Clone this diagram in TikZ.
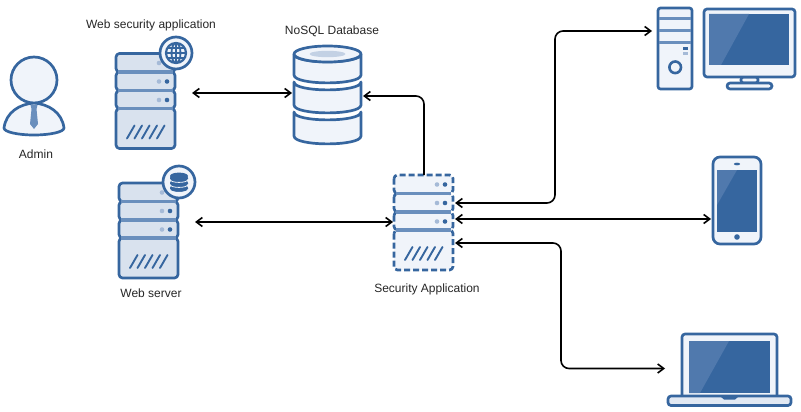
\documentclass[tikz,border=0pt]{standalone}
\usepackage{fontspec}
\setmainfont{Liberation Sans}
\usetikzlibrary{arrows.meta}

\definecolor{iconblue}{HTML}{36669F}
\definecolor{iconmid}{HTML}{6A8FBD}
\definecolor{iconpale}{HTML}{A5BAD7}
\definecolor{iconfill}{HTML}{D9E2EE}
\definecolor{iconlight}{HTML}{F0F4FA}
\definecolor{iconshine}{HTML}{5079AD}

\tikzset{
    iconbox/.style={inner sep=0pt, outer sep=0pt},
    line/.style={draw=iconblue, line width=2.7pt, line join=round},
    link/.style={draw=black, line width=1.6pt, rounded corners=8pt},
    label/.style={font=\fontsize{12}{14}\selectfont, text=black!85},
    pics/rack/.style n args={2}{code={
        \foreach \top/\bot in {0/18.5, 18.5/37, 37/55, 55/95}
            \draw[#1, fill=#2, rounded corners=3.5pt] (0,\top) rectangle (59,\bot);
        \foreach \div in {18.5, 37, 55}
            \draw[iconmid, line width=3.3pt] (2,\div) -- (57,\div);
        \foreach \ypos in {9.5, 28, 46.5} {
            \fill[iconpale] (43,\ypos) circle (2.3);
            \fill[iconblue] (51,\ypos) circle (2.3);
        }
        \foreach \xpos in {11, 18.5, 26, 33.5, 41}
            \draw[iconblue, line width=1.9pt, line cap=round] (\xpos,85) -- ++(7.5,-13);
    }},
    pics/globebadge/.style={code={
        \draw[line, fill=iconlight] (0,0) circle (16);
        \draw[iconblue, line width=2.2pt] (0,0) circle (10);
        \draw[iconblue, line width=1.8pt] (0,0) ellipse [x radius=4.5pt, y radius=10pt];
        \draw[iconblue, line width=1.8pt] (0,-10) -- (0,10) (-10,0) -- (10,0) (-9,-5) -- (9,-5) (-9,5) -- (9,5);
    }},
    pics/diskbadge/.style={code={
        \draw[line, fill=iconlight] (0,0) circle (16);
        \foreach \ypos in {6, 1, -4} {
            \fill[iconblue] (-9,\ypos) -- (-9,\ypos+1) .. controls (-9,\ypos+5) and (9,\ypos+5) .. (9,\ypos+1)
                -- (9,\ypos) .. controls (9,\ypos-5) and (-9,\ypos-5) .. cycle;
            \draw[iconlight, line width=.8pt] (-9,\ypos+1.4) .. controls (-9,\ypos+5.4) and (9,\ypos+5.4) .. (9,\ypos+1.4);
        }
        \fill[iconblue] (0,-6) ellipse [x radius=9pt, y radius=3.4pt];
    }},
}

\begin{document}
\begin{tikzpicture}[x=1pt, y=-1pt, >={Straight Barb[length=6pt, width=9pt]}]
    \useasboundingbox (0,0) rectangle (801,412);

    \node[iconbox, minimum width=62pt, minimum height=79pt] (Admin) at (34,96) {};
    \node[iconbox, minimum width=59pt, minimum height=95pt] (WebSec) at (145.5,101) {};
    \node[iconbox, minimum width=59pt, minimum height=94pt] (WebSrv) at (148.5,230) {};
    \node[iconbox, minimum width=69pt, minimum height=98pt] (NoSql) at (327.5,95) {};
    \node[iconbox, minimum width=60pt, minimum height=96pt] (SecApp) at (424,223) {};
    \node[iconbox, minimum width=139pt, minimum height=82pt] (Desktop) at (726.5,48) {};
    \node[iconbox, minimum width=50pt, minimum height=89pt] (Phone) at (737,200.5) {};
    \node[iconbox, minimum width=125pt, minimum height=73pt] (Laptop) at (729.5,369.5) {};

    \node[label] (AdminText) at (36,154) {Admin};
    \node[label] (WebSecText) at (151,25) {Web security application};
    \node[label] (WebSrvText) at (151,293) {Web server};
    \node[label] (NoSqlText) at (332,31) {NoSQL Database};
    \node[label] (SecAppText) at (427,289) {Security Application};

    \draw[line, fill=iconlight] (4,128) .. controls (6,112) and (20,104) .. (34,103) .. controls (48,104) and (62,112) .. (64,128)
        .. controls (64,132) and (50,135) .. (34,135) .. controls (18,135) and (4,132) .. (4,128) -- cycle;
    \fill[iconmid] (30.5,105) -- (37.5,105) -- (36.5,109) -- (38,124) -- (34,129) -- (30,124) -- (31.5,109) -- cycle;
    \draw[line, fill=iconlight] (34,80) circle (23);

    \pic at (WebSec.north west) {rack={line}{iconfill}};
    \pic at (176,53) {globebadge};
    \pic at (WebSrv.north west) {rack={line}{iconfill}};
    \pic at (179,182) {diskbadge};
    \pic at (SecApp.north west) {rack={line, dash pattern=on 6pt off 3pt}{iconlight}};

    \foreach \ytop/\ybot in {112/136, 82/105, 54/75}
        \draw[line, fill=iconlight] (294,\ytop) -- (294,\ybot) .. controls (294,\ybot+10.5) and (361,\ybot+10.5) .. (361,\ybot)
            -- (361,\ytop) .. controls (361,\ytop+10.5) and (294,\ytop+10.5) .. cycle;
    \draw[line, fill=iconlight] (327.5,54) ellipse [x radius=33.5pt, y radius=8pt];
    \fill[iconfill!80!iconmid] (327.5,54) ellipse [x radius=18pt, y radius=3.2pt];

    \draw[line, fill=iconlight, rounded corners=2.5pt] (658,8) rectangle (692,89);
    \foreach \ypos in {19, 31, 43}
        \draw[iconmid, line width=3pt] (659,\ypos) -- (691,\ypos);
    \fill[iconblue] (683,47) rectangle (688,50);
    \fill[iconpale] (683,52) rectangle (688,55);
    \draw[iconblue, line width=2.6pt, fill=iconlight] (675.2,67.3) circle (5.8);
    \draw[line, fill=iconlight, rounded corners=2.5pt] (741,77) rectangle (758,83);
    \draw[line, fill=iconlight, rounded corners=3pt] (727,83) rectangle (772,89);
    \draw[line, fill=iconlight, rounded corners=3pt] (704,9) rectangle (795,77);
    \fill[iconblue] (709,14) rectangle (789,65);
    \fill[iconshine] (709,14) -- (749,14) -- (721,65) -- (709,65) -- cycle;

    \draw[line, fill=iconlight, rounded corners=7pt] (713,157) rectangle (761,244);
    \fill[iconblue] (717,170) rectangle (757,232);
    \fill[iconshine] (717,170) -- (737,170) -- (717,205) -- cycle;
    \fill[iconblue] (737,164) ellipse [x radius=3.2pt, y radius=1.3pt];
    \fill[iconblue] (737,237) circle (2.8);

    \draw[line, fill=iconlight, rounded corners=3pt] (682,334) rectangle (777,400);
    \fill[iconblue] (689,341) rectangle (770,393);
    \fill[iconshine] (689,341) -- (729,341) -- (700,393) -- (689,393) -- cycle;
    \draw[line, fill=iconfill!60!iconlight, rounded corners=3pt] (668,396) rectangle (791,405.5);
    \fill[iconblue] (721,396) -- (738,396) -- (738,397) -- (735,399.5) -- (724,399.5) -- (721,397) -- cycle;

    \draw[link, <->] ([xshift=17pt, yshift=8pt]WebSec.east) -- ([yshift=2pt, xshift=-1pt]NoSql.west);
    \draw[link, <->] ([xshift=17pt, yshift=8pt]WebSrv.east) -- ([yshift=1pt, xshift=-1pt]SecApp.west);
    \draw[link, ->] (SecApp.north) -- ++(0,-79) -- ([yshift=-1pt, xshift=1pt]NoSql.east);
    \draw[link, <->] ([yshift=20pt, xshift=1pt]SecApp.east) -- ++(100,0) |- ([xshift=-5pt, yshift=17pt]Desktop.west);
    \draw[link, <->] ([yshift=4pt, xshift=1pt]SecApp.east) -- ([xshift=-1pt, yshift=-18.5pt]Phone.west);
    \draw[link, <->] ([yshift=-20pt, xshift=1pt]SecApp.east) -- ++(106,0) |- ([xshift=-2pt, yshift=1pt]Laptop.west);
\end{tikzpicture}
\end{document}
